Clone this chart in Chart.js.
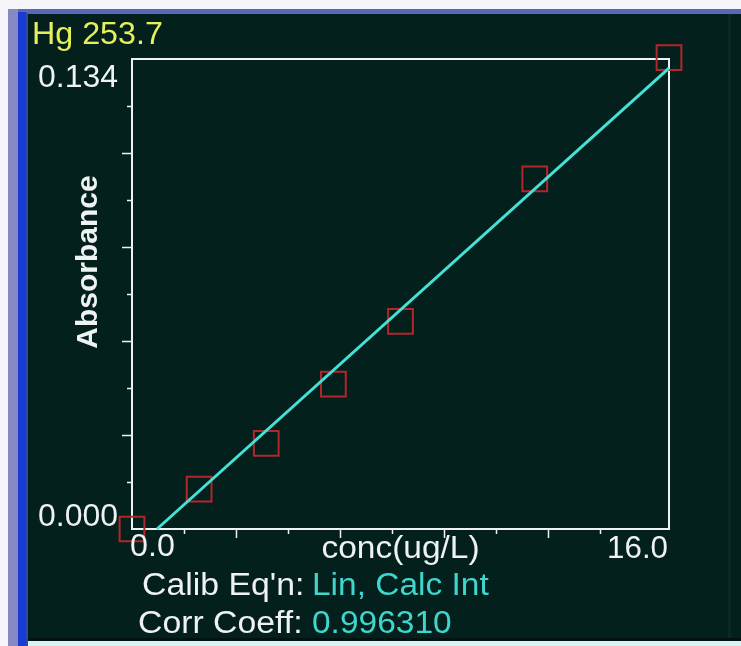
<!DOCTYPE html>
<html><head><meta charset="utf-8">
<script src="https://cdn.jsdelivr.net/npm/chart.js@4/dist/chart.umd.min.js"></script>
<style>html,body{margin:0;padding:0;background:#fff;overflow:hidden}#wrap{width:741px;height:646px;position:relative}canvas{display:block}</style>
</head><body><div id="wrap"><canvas id="c" width="741" height="646"></canvas></div>
<script>
// ---- data ----
const chartTitle = 'Hg 253.7';
const xTitle = 'conc(ug/L)';
const yTitle = 'Absorbance';
const concentrations = [0, 2, 4, 6, 8, 12, 16];
const absorbances = [0.0, 0.0114, 0.0244, 0.0413, 0.0592, 0.0998, 0.1344];
const fitLineX = [0.745, 16];
const fitLineY = [0.0, 0.1314];
const xRange = [0, 16];
const yRange = [0, 0.134];
const xAxisLabels = ['0.0', '16.0'];
const yAxisLabels = ['0.000', '0.134'];
const xTickValues = [1.55, 3.10, 4.65, 6.20, 7.75, 9.30, 10.85, 12.40, 13.95];
const yTickValues = [0.0134, 0.0268, 0.0402, 0.0536, 0.0670, 0.0804, 0.0938, 0.1072, 0.1206];
const footerKeys = ["Calib Eq'n: ", 'Corr Coeff: '];
const footerValues = ['Lin, Calc Int', '0.996310'];

// ---- styling ----
const PANEL = '#03201d';
const WHITE = '#eef2f2';
const CYAN = '#3fd6cd';
const LINECYAN = '#45e0d6';
const RED = '#b3262b';
const YELLOW = '#e6ef5c';
const FONT = '"Liberation Sans", Arial, sans-serif';

function drawText(ctx, s, x, y, size, color, align, sx, bold) {
  ctx.save();
  ctx.font = (bold ? 'bold ' : '') + size + 'px ' + FONT;
  ctx.fillStyle = color;
  ctx.textBaseline = 'alphabetic';
  const w = ctx.measureText(s).width * sx;
  let x0 = x;
  if (align === 'right') x0 = x - w;
  else if (align === 'center') x0 = x - w / 2;
  ctx.translate(x0, y);
  ctx.scale(sx, 1);
  ctx.textAlign = 'left';
  ctx.fillText(s, 0, 0);
  ctx.restore();
  return w;
}

const bgPlugin = {
  id: 'bg',
  beforeDraw(chart) {
    const ctx = chart.ctx;
    ctx.save();
    ctx.fillStyle = '#f6f6fa';
    ctx.fillRect(0, 0, 741, 646);
    // top blue band
    ctx.fillStyle = '#5a68bc';
    ctx.fillRect(8, 9, 733, 5);
    // left bands
    ctx.fillStyle = '#8789c4';
    ctx.fillRect(8, 9, 10, 637);
    ctx.fillStyle = '#1b3cd4';
    ctx.fillRect(18, 12, 8, 634);
    ctx.fillStyle = '#2a4ab0';
    ctx.fillRect(26, 13, 2, 633);
    // dark panel
    ctx.fillStyle = PANEL;
    ctx.fillRect(28, 14, 713, 626);
    ctx.fillStyle = '#0a2826';
    ctx.fillRect(728, 14, 3, 626);
    // bottom
    ctx.fillStyle = '#021210';
    ctx.fillRect(28, 638, 713, 3);
    ctx.fillStyle = '#d6f3f3';
    ctx.fillRect(28, 641, 713, 5);
    ctx.restore();
  }
};

const axesPlugin = {
  id: 'axesDraw',
  beforeDatasetsDraw(chart) {
    const ctx = chart.ctx;
    const xs = chart.scales.x, ys = chart.scales.y;
    const L = xs.getPixelForValue(xRange[0]), R = xs.getPixelForValue(xRange[1]);
    const B = ys.getPixelForValue(yRange[0]), T = ys.getPixelForValue(yRange[1]);
    ctx.save();
    ctx.strokeStyle = WHITE;
    ctx.lineWidth = 2;
    ctx.beginPath();
    ctx.rect(L, T, R - L, B - T);
    ctx.stroke();
    ctx.beginPath();
    yTickValues.forEach((v, i) => {
      const p = Math.round(ys.getPixelForValue(v)) + 0.5;
      const len = (i % 2 === 1) ? 10 : 5;
      ctx.moveTo(L - len, p); ctx.lineTo(L, p);
    });
    xTickValues.forEach((v, i) => {
      const p = Math.round(xs.getPixelForValue(v)) + 0.5;
      const len = (i % 2 === 1) ? 9 : 5;
      ctx.moveTo(p, B); ctx.lineTo(p, B + len);
    });
    ctx.lineWidth = 1.5;
    ctx.stroke();
    ctx.restore();
  },
  afterDraw(chart) {
    const ctx = chart.ctx;
    const xs = chart.scales.x, ys = chart.scales.y;
    const L = xs.getPixelForValue(xRange[0]), R = xs.getPixelForValue(xRange[1]);
    const B = ys.getPixelForValue(yRange[0]), T = ys.getPixelForValue(yRange[1]);
    // title
    drawText(ctx, chartTitle, 32, 44, 31, YELLOW, 'left', 1.04);
    // y labels
    drawText(ctx, yAxisLabels[1], L - 14, T + 28, 31, WHITE, 'right', 1.03);
    drawText(ctx, yAxisLabels[0], L - 14, B - 3, 31, WHITE, 'right', 1.03);
    // x labels
    drawText(ctx, xAxisLabels[0], L - 2, B + 27, 31, WHITE, 'left', 1.04);
    drawText(ctx, xAxisLabels[1], R - 1, B + 29, 31, WHITE, 'right', 1.01);
    drawText(ctx, xTitle, (L + R) / 2, B + 29, 31, WHITE, 'center', 1.08);
    // y title rotated
    ctx.save();
    ctx.translate(97, 262);
    ctx.rotate(-Math.PI / 2);
    drawText(ctx, yTitle, 0, 0, 30, WHITE, 'center', 1.0, true);
    ctx.restore();
    // footer
    const fy = [595, 633];
    const fx = [142, 138];
    footerKeys.forEach((k, i) => {
      drawText(ctx, k, fx[i], fy[i], 31, WHITE, 'left', 1.09);
      drawText(ctx, footerValues[i], 312, fy[i], 31, CYAN, 'left', 1.08);
    });
  }
};

new Chart(document.getElementById('c'), {
  type: 'scatter',
  data: {
    datasets: [
      {
        type: 'line',
        data: fitLineX.map((x, i) => ({ x: x, y: fitLineY[i] })),
        borderColor: LINECYAN,
        borderWidth: 3,
        pointRadius: 0,
        fill: false,
        clip: false,
        order: 0
      },
      {
        type: 'scatter',
        data: concentrations.map((x, i) => ({ x: x, y: absorbances[i] })),
        pointStyle: 'rect',
        pointRadius: 17.5,
        pointHoverRadius: 17.5,
        borderColor: RED,
        backgroundColor: 'rgba(0,0,0,0)',
        borderWidth: 2,
        clip: false,
        order: 1
      }
    ]
  },
  options: {
    responsive: false,
    animation: false,
    devicePixelRatio: 1,
    events: [],
    layout: { padding: { left: 132, top: 59, right: 72, bottom: 117 } },
    plugins: { legend: { display: false }, tooltip: { enabled: false } },
    scales: {
      x: { type: 'linear', min: xRange[0], max: xRange[1], display: false },
      y: { type: 'linear', min: yRange[0], max: yRange[1], display: false }
    }
  },
  plugins: [bgPlugin, axesPlugin]
});
</script>
</body></html>
